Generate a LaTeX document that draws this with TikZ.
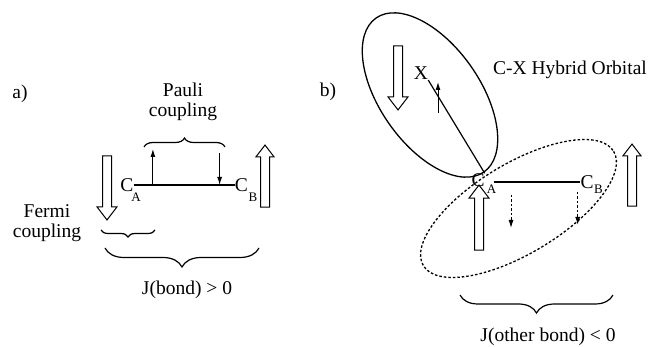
\documentclass[tikz,border=0pt]{standalone}
\usepackage{fontspec}
\setmainfont{Liberation Serif}
\usetikzlibrary{arrows.meta,calc,decorations.pathreplacing,shapes.arrows}

\begin{document}
\begin{tikzpicture}[x=1pt, y=-1pt, font=\fontsize{19.5}{20}\selectfont,
  txt/.style={inner sep=0pt, align=center},
  atom/.style={inner sep=0pt},
  sub/.style={inner sep=0pt, font=\fontsize{13}{13}\selectfont},
  bond/.style={line width=1.2pt},
  spin/.style={-{Latex[length=8pt,width=5pt]}, line width=1pt},
  dspin/.style={spin, dash pattern=on 2.5pt off 2pt},
  bigspin/.style={draw, single arrow, single arrow head extend=5.5pt, single arrow tip angle=75,
    inner xsep=0pt, inner ysep=4pt, minimum height=64pt, line width=1pt},
  brc/.style={decorate, decoration={brace, amplitude=#1}, line width=1.2pt},
  orbital/.style={line width=1.3pt}]
\useasboundingbox (0,0) rectangle (651,347);
% ---- a) bond
\node[txt] (la) at (20,93.5) {a)};
\node[atom] (ca) at (127,185) {C};
\node[sub] (ca-s) at (136,197) {A};
\node[atom] (cb) at (241.5,185.5) {C};
\node[sub] (cb-s) at (253,197) {B};
\draw[bond] (ca.east) -- (ca.east -| cb.west);
\coordinate (pa) at ($(ca.east)!0.19!(ca.east -| cb.west)$);
\coordinate (pb) at ($(ca.east)!0.85!(ca.east -| cb.west)$);
\draw[spin] (pa) -- ++(0,-36);
\draw[spin] ([yshift=32pt]pb) -- (pb);
\node[bigspin, rotate=-90] (fa) at (107,185) {};
\node[bigspin, rotate=90, single arrow head extend=4.5pt, minimum height=62pt] (fb) at (265,179) {};
% braces and labels
\node[txt] (pauli) at (183,102) {Pauli\\coupling};
\draw[brc=9] (144,147) -- (225,147);
\node[txt] (fermi) at (47,223.5) {Fermi\\coupling};
\draw[brc=7] (155,230) -- (101,230);
\draw[brc=19] (259,248) -- (105,248);
\node[txt] (ja) at (187,290) {J(bond) > 0};
% ---- b) other bond
\node[txt] (lb) at (328,92) {b)};
\draw[orbital, rotate around={-55:(430,95)}] (430,95) ellipse [x radius=94, y radius=50];
\draw[orbital, dash pattern=on 2.5pt off 2pt, rotate around={31:(518.5,208.5)}] (518.5,208.5) ellipse [x radius=111, y radius=45];
\node[txt] (hyb) at (570,70) {C-X Hybrid Orbital};
\node[atom] (x) at (421,73.5) {X};
\node[atom] (caB) at (478,180) {C};
\node[sub] (caB-s) at (491.5,189) {A};
\node[atom] (cbB) at (587,182.5) {C};
\node[sub] (cbB-s) at (598.5,189.5) {B};
\draw[bond] (x.south east) -- (caB.north east);
\coordinate (bondB) at ([xshift=9pt,yshift=-2pt]caB.east);
\draw[bond] (bondB) -- (bondB -| cbB.west);
\draw[spin] (438,113) -- (438,82);
\node[bigspin, rotate=-90] (fx) at (398,75) {};
\node[bigspin, rotate=90, minimum height=65pt] (fc) at (479,220.5) {};
\node[bigspin, rotate=90, single arrow head extend=4.5pt, minimum height=62pt] (fd) at (632,178) {};
\coordinate (pc) at ($(bondB)!0.2!(bondB -| cbB.west)$);
\coordinate (pd) at ($(bondB)!0.97!(bondB -| cbB.west)$);
\draw[dspin] ([yshift=-13pt]pc) -- ++(0,33);
\draw[dspin] ([yshift=-10pt]pd) -- ++(0,33);
\draw[brc=18] (613,295) -- (460,295);
\node[txt] (jb) at (548,337) {J(other bond) < 0};
\end{tikzpicture}
\end{document}
